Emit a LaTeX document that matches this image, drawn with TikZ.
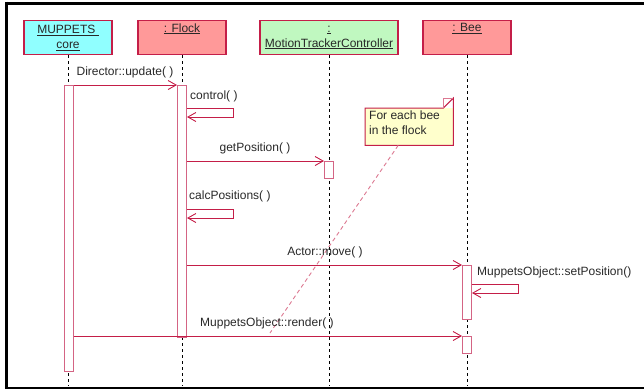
\documentclass[tikz,border=0pt]{standalone}
\usepackage{fontspec}
\setmainfont{Liberation Sans}
\usetikzlibrary{arrows.meta,calc}
\definecolor{umlred}{RGB}{196,30,72}
\definecolor{actline}{RGB}{212,100,132}
\definecolor{corefill}{RGB}{144,255,255}
\definecolor{objfill}{RGB}{255,153,153}
\definecolor{ctrlfill}{RGB}{192,248,192}
\definecolor{notefill}{RGB}{255,255,204}
\definecolor{inkgray}{RGB}{40,40,40}
\begin{document}
\begin{tikzpicture}[x=1pt,y=-1pt,
  every node/.style={font=\fontsize{12}{15}\selectfont, text=inkgray},
  header/.style={draw=umlred, line width=1.1pt, minimum height=34pt,
    inner sep=0pt, align=center, anchor=north},
  lifeline/.style={draw=black, line width=0.9pt, dash pattern=on 3pt off 3pt},
  act/.style={draw=actline, fill=white, line width=1pt, minimum width=9pt,
    inner sep=0pt, anchor=north},
  msg/.style={draw=umlred, line width=0.9pt,
    -{Straight Barb[length=8pt,width=9pt,line width=0.9pt]}},
  lbl/.style={inner sep=0pt},
  notelink/.style={draw=umlred!60, line width=0.9pt, dash pattern=on 4pt off 3pt}]

\useasboundingbox (0,0) rectangle (644,389);

% window frame
\draw[line width=3.6pt] (644,3.5) -- (4.7,3.5);
\draw[line width=3.2pt] (6.4,1.7) -- (6.4,389);
\draw[line width=1.5pt] (4.8,388.2) -- (644,388.2);

% object heads
\node[header, fill=corefill, minimum width=88pt] (core) at (68,20)
  {\underline{MUPPETS~}\\\underline{core}};
\node[header, fill=objfill, minimum width=88pt] (flock) at (182,20)
  {\underline{: Flock}\\\strut};
\node[header, fill=ctrlfill, minimum width=138pt] (mtc) at (329,20)
  {\underline{:}\\\underline{MotionTrackerController}};
\node[header, fill=objfill, minimum width=88pt] (bee) at (467,20)
  {\underline{: Bee}\\\strut};

% lifelines
\coordinate (bottom) at (0,386);
\foreach \o in {core,flock,mtc,bee}
  \draw[lifeline] (\o.south) -- (\o.south |- bottom);

% activation bars
\node[act, minimum height=286pt] (coreact) at (68.5,85) {};
\node[act, minimum height=252pt] (flockact) at (182,85) {};
\node[act, minimum height=17pt] (mtcact) at (329,161) {};
\node[act, minimum height=54pt] (beeact) at (467,265) {};
\node[act, minimum height=17pt] (beeact2) at (467,336) {};

% note
\node[fill=notefill, minimum width=88pt, minimum height=37pt, anchor=north west,
  inner sep=0pt] (note) at (365,108) {};
\node[lbl, anchor=north west, align=left] (notetext) at ($(note.north west)+(4,3)$)
  {For each bee\\in the flock};
\fill[white] ([xshift=-10pt]note.north east) -- (note.north east)
  -- ([yshift=10pt]note.north east) -- cycle;
\draw[umlred, line width=1pt] (note.south west) -- (note.north west)
  -- ([xshift=-10pt]note.north east) -- ([yshift=10pt]note.north east)
  -- (note.south east) -- cycle;
\draw[umlred!60, line width=0.8pt] ([xshift=-10pt]note.north east)
  -- ([xshift=-10pt,yshift=10pt]note.north east) -- ([yshift=10pt]note.north east);
\coordinate (notetip) at (270,333);
\draw[notelink] ($(note.south west)!0.375!(note.south east)$) -- (notetip);

% messages
\coordinate (yctl) at (0,108);
\coordinate (ycalc) at (0,209);
\coordinate (yset) at (0,284);

\draw[msg] (coreact.north east) -- (flockact.north west);
\node[lbl] (lupd) at (125,72) {Director::update( )};

\draw[msg] (flockact.east |- yctl) -- ++(46,0) -- ++(0,9) -- ++(-46,0);
\node[lbl, anchor=west] (lctl) at (190,96) {control( )};

\draw[msg] (flockact.east |- mtcact.north) -- (mtcact.north west);
\node[lbl] (lget) at (255,148) {getPosition( )};

\draw[msg] (flockact.east |- ycalc) -- ++(46,0) -- ++(0,9) -- ++(-46,0);
\node[lbl, anchor=west] (lcalc) at (189,196) {calcPositions( )};

\draw[msg] (flockact.east |- beeact.north) -- (beeact.north west);
\node[lbl] (lmove) at (325,252) {Actor::move( )};

\draw[msg] (beeact.east |- yset) -- ++(46,0) -- ++(0,9) -- ++(-46,0);
\node[lbl, anchor=west] (lset) at (477,272) {MuppetsObject::setPosition()};

\draw[msg] (coreact.east |- beeact2.north) -- (beeact2.north west);
\node[lbl, anchor=west] (lrend) at (200,323) {MuppetsObject::render( )};
\end{tikzpicture}
\end{document}
